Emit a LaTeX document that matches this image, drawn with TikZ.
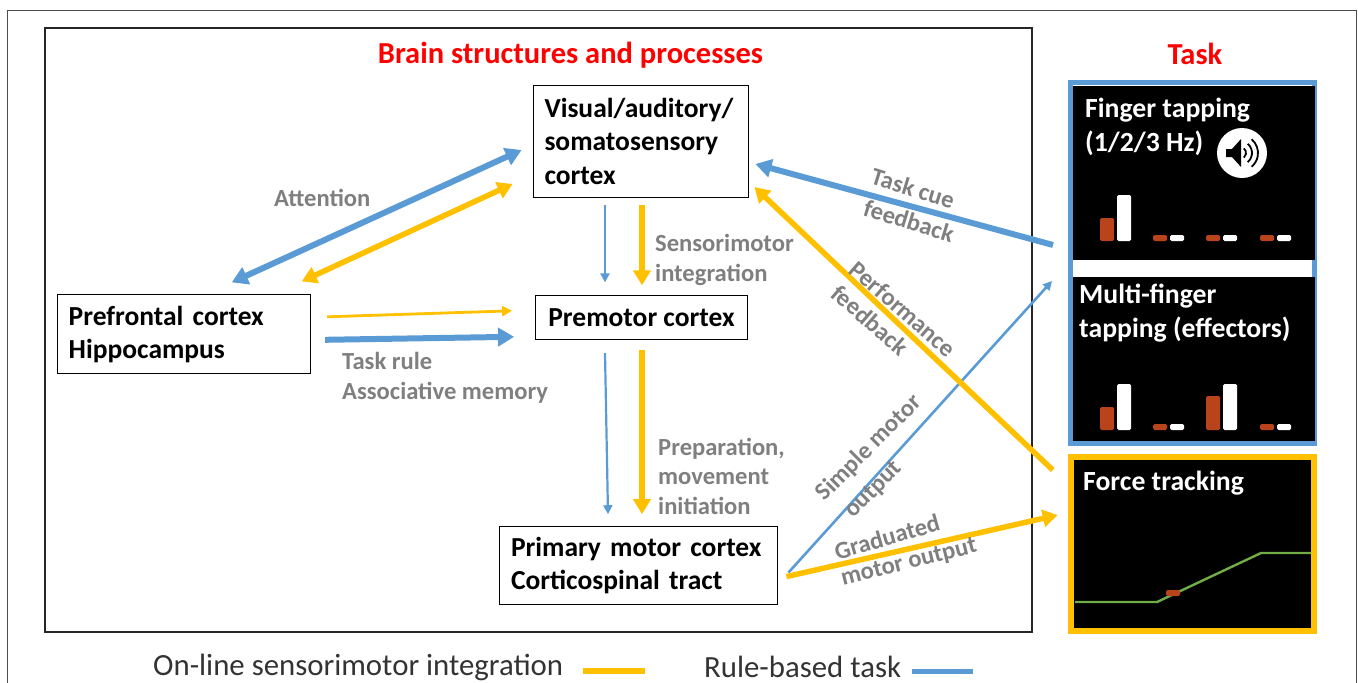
\documentclass[tikz,border=0pt]{standalone}
\usepackage{fontspec}
\setmainfont{Carlito}
\usetikzlibrary{positioning,arrows.meta}
\definecolor{azul}{HTML}{5B9BD5}
\definecolor{ambar}{HTML}{FFC000}
\definecolor{gris}{HTML}{7F7F7F}
\definecolor{rojizo}{HTML}{B9431B}
\definecolor{verde}{HTML}{70AD47}
\tikzset{
	region/.style={rectangle, draw=black, thick, fill=white, font=\bfseries\fontsize{27.5}{33.5}\selectfont,
		align=left, inner sep=0pt},
	titulo/.style={text=red, font=\bfseries\fontsize{30.5}{34}\selectfont, inner sep=0pt},
	proceso/.style={text=gris, font=\bfseries\fontsize{24.6}{29.5}\selectfont, align=left, inner sep=0pt},
	leyenda/.style={text=black!80, font=\fontsize{30.8}{34}\selectfont, inner sep=0pt},
	tarea/.style={text=white, font=\bfseries\fontsize{27.7}{34}\selectfont, align=left, inner sep=0pt},
	bluefino/.style={draw=azul, line width=2.2pt, -{Triangle[length=9pt,width=9pt]}},
	bluegrueso/.style={draw=azul, line width=6pt, -{Triangle[length=16pt,width=18pt]}},
	yellowfino/.style={draw=ambar, line width=2.8pt, -{Triangle[length=10pt,width=10pt]}},
	yellowgrueso/.style={draw=ambar, line width=5.5pt, -{Triangle[length=15pt,width=17pt]}},
	redbar/.style={fill=rojizo, rounded corners=1.5pt},
	whitebar/.style={fill=white, rounded corners=1.5pt}
}
\begin{document}
\begin{tikzpicture}[x=1pt, y=-1pt]
	\useasboundingbox (0,0) rectangle (1358,683);
	\draw[line width=1pt, draw=black!70] (7,683) |- (1356,10) -- (1356,683);
	\draw[line width=1.5pt, draw=black!85] (45,28) rectangle (1032,632);

	\node[titulo] (brain) at (570.5,55) {Brain structures and processes};
	\node[titulo] (task) at (1195,54) {Task};

	% regiones del cerebro
	\node[region, minimum width=215pt, minimum height=112pt, text width=192pt] (visual) at (640.5,141) {Visual/auditory/\\somatosensory\\cortex};
	\node[region, minimum width=212pt, minimum height=44pt, align=center, below=98pt of visual, xshift=1pt] (premotor) {Premotor cortex};
	\node[region, minimum width=253pt, minimum height=79pt, text width=231pt, left=224pt of premotor, yshift=-16.5pt] (prefrontal) {Prefrontal cortex\\Hippocampus};
	\node[region, minimum width=278pt, minimum height=78pt, text width=254pt, below=186pt of premotor, xshift=-3.5pt] (primary) {Primary motor cortex\\Corticospinal tract};

	% tareas
	\node[rectangle, draw=azul, line width=5pt, minimum width=244pt, minimum height=361pt, inner sep=0pt] (rule) at (1192.5,263) {};
	\node[rectangle, fill=black, minimum width=242pt, minimum height=174pt, inner sep=0pt] (tapping) at (1194,173) {};
	\node[rectangle, fill=black, minimum width=242pt, minimum height=164pt, inner sep=0pt] (multi) at (1194,359) {};
	\node[rectangle, fill=black, draw=ambar, line width=6.5pt, minimum width=243pt, minimum height=174pt, inner sep=0pt] (force) at (1192.5,544) {};
	\node[tarea, anchor=north west] (tapname) at (1085,98) {Finger tapping\\(1/2/3 Hz)};
	\node[tarea, anchor=north west] (multiname) at (1079,284) {Multi-finger\\tapping (effectors)};
	\node[tarea, anchor=north west] (forcename) at (1083,471) {Force tracking};

	\foreach \xa/\ya/\yb in {1100/218/195, 1153/235/235, 1206/235/235, 1260/235/235}{
		\fill[redbar] (\xa,\ya) rectangle ++(14,241-\ya);
		\fill[whitebar] (\xa+17,\yb) rectangle ++(14,241-\yb);
	}
	\foreach \xa/\ya/\yb in {1100/407/384, 1153/424/424, 1206/396/384, 1260/424/424}{
		\fill[redbar] (\xa,\ya) rectangle ++(14,430-\ya);
		\fill[whitebar] (\xa+17,\yb) rectangle ++(14,430-\yb);
	}
	\draw[verde, line width=2.4pt] (1075,602) -- (1157,602) -- (1261,553) -- (1311,553);
	\fill[redbar] (1166,590) rectangle (1180,596);

	% altavoz
	\fill[white] (1242,153) circle (25);
	\fill[black] (1226,149) -- (1232,149) -- (1241,139) -- (1241,167) -- (1232,157) -- (1226,157) -- cycle;
	\foreach \r in {6,12,18}{
		\draw[black, line width=1.8pt] (1240+.643*\r,153-.766*\r) arc[start angle=-50, end angle=50, radius=\r];
	}

	% conexiones
	\draw[bluegrueso, {Triangle[length=16pt,width=18pt]}-{Triangle[length=16pt,width=18pt]}] ([shift={(47.5pt,12pt)}]prefrontal.north) -- ([shift={(-11pt,-9pt)}]visual.west);
	\draw[yellowgrueso, {Triangle[length=15pt,width=17pt]}-{Triangle[length=15pt,width=17pt]}] ([shift={(117.5pt,13pt)}]prefrontal.north) -- ([shift={(-20pt,-43pt)}]visual.west);
	\draw[bluefino] ([shift={(-35.5pt,-8pt)}]visual.south) -- ([shift={(-36.5pt,13pt)}]premotor.north);
	\draw[yellowgrueso] ([shift={(1.5pt,-8pt)}]visual.south) -- ([shift={(0.5pt,10pt)}]premotor.north);
	\draw[yellowfino] ([shift={(16pt,17.5pt)}]prefrontal.east) -- ([shift={(-23pt,7pt)}]premotor.west);
	\draw[bluegrueso] ([shift={(14pt,-5.5pt)}]prefrontal.east) -- ([shift={(-21pt,-19pt)}]premotor.west);
	\draw[bluefino] ([shift={(-36.5pt,-13pt)}]premotor.south) -- ([shift={(-30pt,12pt)}]primary.north);
	\draw[yellowgrueso] ([shift={(0.5pt,-10pt)}]premotor.south) -- ([shift={(4pt,12pt)}]primary.north);
	\draw[bluefino, line width=2.6pt] ([shift={(11pt,-7pt)}]primary.east) -- ([shift={(-16pt,-18pt)}]rule.west);
	\draw[yellowgrueso] ([shift={(9pt,-11pt)}]primary.east) -- ([shift={(-10pt,29pt)}]force.west);
	\draw[bluegrueso] ([shift={(-15pt,18pt)}]rule.west) -- ([shift={(7pt,-23pt)}]visual.east);
	\draw[yellowgrueso] ([shift={(-15pt,74pt)}]force.west) -- ([shift={(6pt,-46pt)}]visual.east);

	% etiquetas
	\node[proceso, anchor=west] (attention) at (274,198) {Attention};
	\node[proceso, anchor=west] (integration) at (655,260) {Sensorimotor\\integration};
	\node[proceso, anchor=west] (taskrule) at (342,378) {Task rule\\Associative memory};
	\node[proceso, anchor=west] (initiation) at (658,476) {Preparation,\\movement\\initiation};
	\node[proceso, rotate=-17] (cue) at (913,188) {Task cue};
	\node[proceso, rotate=-17] (cuefeed) at (909,221) {feedback};
	\node[proceso, rotate=-41] (perf) at (903,309) {Performance};
	\node[proceso, rotate=-41] (perffeed) at (870,320) {feedback};
	\node[proceso, rotate=45] (simple) at (869,448) {Simple motor};
	\node[proceso, rotate=45] (simpleout) at (874,490) {output};
	\node[proceso, rotate=16] (graduated) at (887,537) {Graduated};
	\node[proceso, rotate=14] (motorout) at (909,563) {motor output};

	% leyenda
	\node[leyenda, anchor=west] (online) at (153,667) {On-line sensorimotor integration};
	\node[leyenda, anchor=west] (rulebased) at (704,667) {Rule-based task};
	\draw[draw=ambar, line width=6pt] ([xshift=20pt,yshift=-4pt]online.east) -- ++(62,0);
	\draw[draw=azul, line width=5pt] ([xshift=11pt,yshift=-4pt]rulebased.east) -- ++(61,0);
\end{tikzpicture}
\end{document}
